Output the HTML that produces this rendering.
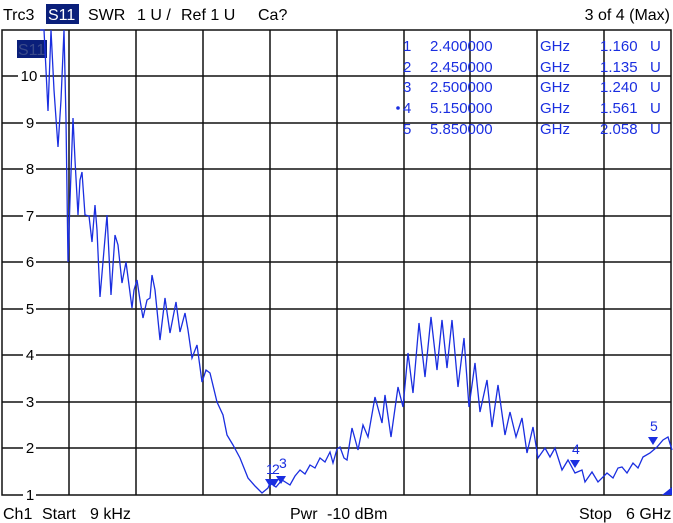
<!DOCTYPE html><html><head><style>body{margin:0;background:#fff}svg{display:block}text{font-family:"Liberation Sans",Arial,sans-serif;white-space:pre}</style></head><body>
<svg width="673" height="523" viewBox="0 0 673 523">
<rect width="673" height="523" fill="#fff"/>
<g font-size="16" fill="#000">
<text x="3" y="20">Trc3</text>
<rect x="46" y="4" width="33" height="20" fill="#0a1f7a"/>
<text x="48" y="20" fill="#fff">S11</text>
<text x="88" y="20">SWR</text>
<text x="137" y="20">1 U /</text>
<text x="181" y="20">Ref 1 U</text>
<text x="258" y="20">Ca?</text>
<text x="670" y="20" text-anchor="end">3 of 4 (Max)</text>
<text x="3" y="519">Ch1</text>
<text x="42" y="519">Start</text>
<text x="90" y="519">9 kHz</text>
<text x="290" y="519">Pwr</text>
<text x="327" y="519">-10 dBm</text>
<text x="579" y="519">Stop</text>
<text x="626" y="519">6 GHz</text>
</g>
<g stroke="#111" stroke-width="1.5" fill="none">
<rect x="2" y="30" width="669" height="465"/>
<path d="M69 30V495M136 30V495M203 30V495M270 30V495M337 30V495M404 30V495M470 30V495M537 30V495M604 30V495"/>
<path d="M2 76H671M2 123H671M2 169H671M2 216H671M2 262H671M2 309H671M2 355H671M2 402H671M2 448H671"/>
</g>
<g font-size="15" fill="#000" text-anchor="middle">
<rect x="18" y="68" width="22" height="16" fill="#fff"/><text x="29" y="81">10</text>
<rect x="23" y="115" width="13" height="16" fill="#fff"/><text x="30" y="128">9</text>
<rect x="23" y="161" width="13" height="16" fill="#fff"/><text x="30" y="174">8</text>
<rect x="23" y="208" width="13" height="16" fill="#fff"/><text x="30" y="221">7</text>
<rect x="23" y="254" width="13" height="16" fill="#fff"/><text x="30" y="267">6</text>
<rect x="23" y="301" width="13" height="16" fill="#fff"/><text x="30" y="314">5</text>
<rect x="23" y="347" width="13" height="16" fill="#fff"/><text x="30" y="360">4</text>
<rect x="23" y="394" width="13" height="16" fill="#fff"/><text x="30" y="407">3</text>
<rect x="23" y="440" width="13" height="16" fill="#fff"/><text x="30" y="453">2</text>
<rect x="23" y="487" width="13" height="14" fill="#fff"/><text x="30" y="500">1</text>
</g>
<rect x="17" y="40" width="30" height="18" fill="#0a1f7a"/>
<text x="18" y="55" font-size="16" fill="#3a4a8a">S11</text>
<polyline fill="none" stroke="#1a2ee0" stroke-width="1.3" points="40,30 44,30 46,70 48,111 51,30 54,90 58,147 61,100 64,30 66,120 68,262 70,200 73,118 75,160 78,215 80,180 82,172 85,215 89,216 92,242 95,205 97,230 100,297 104,250 107,215 111,295 115,235 118,245 122,283 126,262 132,308 134,290 137,280 140,300 143,318 147,300 150,298 152,275 155,290 160,340 165,298 170,333 176,302 180,332 185,313 188,330 192,358 197,345 202,382 206,370 210,373 217,402 223,415 227,435 233,445 240,458 248,478 255,486 262,493 268,488 270,483 276,487 282,480 290,485 295,476 300,470 305,474 310,465 315,468 320,458 325,462 330,452 333,463 337,449 340,447 344,458 347,460 352,428 358,450 363,425 368,437 375,397 382,423 385,395 391,437 398,387 403,407 408,353 413,393 419,323 425,377 431,317 437,370 442,320 447,368 452,320 458,387 464,338 469,407 475,363 480,412 487,380 492,427 498,385 505,435 510,412 516,437 522,418 527,453 533,427 538,458 545,448 550,457 555,448 562,470 568,460 575,473 582,470 585,482 592,472 598,482 607,473 613,478 618,468 622,467 627,473 633,463 638,468 643,457 650,453 657,447 663,440 668,437 672,450"/>
<g fill="#1a2ee0">
<path d="M265 479h10l-5 8z M269 479h10l-5 8z M276 476h10l-5 8z M570 460h10l-5 8z M648 437h10l-5 8z"/>
<path d="M662 495L672 487V495z"/>
<g font-size="14"><text x="266" y="474">1</text><text x="272" y="474">2</text><text x="279" y="468">3</text><text x="572" y="454">4</text><text x="650" y="431">5</text></g>
<g font-size="15">
<text x="403" y="51">1</text><text x="430" y="51">2.400000</text><text x="540" y="51">GHz</text><text x="600" y="51">1.160</text><text x="650" y="51">U</text>
<text x="403" y="72">2</text><text x="430" y="72">2.450000</text><text x="540" y="72">GHz</text><text x="600" y="72">1.135</text><text x="650" y="72">U</text>
<text x="403" y="92">3</text><text x="430" y="92">2.500000</text><text x="540" y="92">GHz</text><text x="600" y="92">1.240</text><text x="650" y="92">U</text>
<circle cx="398" cy="108" r="1.8"/>
<text x="403" y="113">4</text><text x="430" y="113">5.150000</text><text x="540" y="113">GHz</text><text x="600" y="113">1.561</text><text x="650" y="113">U</text>
<text x="403" y="134">5</text><text x="430" y="134">5.850000</text><text x="540" y="134">GHz</text><text x="600" y="134">2.058</text><text x="650" y="134">U</text>
</g></g>
</svg></body></html>
